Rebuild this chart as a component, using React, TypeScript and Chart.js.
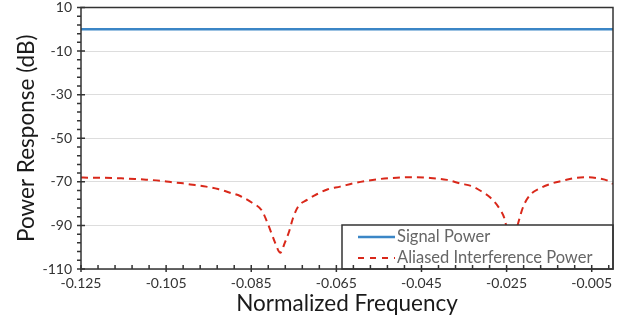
import React, { useEffect, useRef } from "react";
import { Chart, registerables } from "chart.js";

Chart.register(...registerables);

// ---- data ----
const SERIES_NAMES = ["Signal Power", "Aliased Interference Power"];

const SIGNAL_FREQ = [-0.125, 0.0];
const SIGNAL_DB = [0, 0];

const INTERF_FREQ = [
  -0.125, -0.1234, -0.1194, -0.1156, -0.1123, -0.1097, -0.1064, -0.1039,
  -0.101, -0.0982, -0.0956, -0.0928, -0.09, -0.0876, -0.0848, -0.0825,
  -0.0813, -0.0804, -0.0794, -0.0782, -0.0771, -0.0761, -0.0752, -0.074,
  -0.0719, -0.0696, -0.067, -0.0641, -0.0611, -0.0578, -0.0548, -0.0508,
  -0.047, -0.043, -0.039, -0.036, -0.0329, -0.0308, -0.0289, -0.0266,
  -0.0254, -0.0249, -0.0244, -0.0239, -0.0234, -0.0228, -0.0223, -0.0211,
  -0.0195, -0.0172, -0.0143, -0.0118, -0.0089, -0.0061, -0.0031, -0.0012,
  0.0,
];
const INTERF_DB = [
  -68.0, -68.1, -68.1, -68.4, -68.7, -69.0, -69.5, -70.1,
  -70.7, -71.5, -72.2, -73.3, -75.0, -76.5, -79.6, -83.2,
  -88.3, -92.8, -97.9, -102.5, -97.9, -92.8, -86.7, -81.4,
  -78.3, -75.7, -73.4, -72.2, -70.7, -69.5, -68.7, -68.1,
  -67.9, -68.2, -69.1, -70.7, -72.2, -74.5, -77.1, -82.5,
  -87.5, -92.5, -98.0, -103.0, -98.0, -93.0, -89.1, -81.4,
  -76.1, -73.0, -70.7, -69.5, -68.2, -67.9, -68.5, -69.5,
  -71.0,
];

const X_MIN = -0.125;
const X_MAX = 0.0;
const X_TICKS = [-0.125, -0.105, -0.085, -0.065, -0.045, -0.025, -0.005];
const X_MINOR_STEP = 0.004;
const Y_MIN = -110;
const Y_MAX = 10;
const Y_TICKS = [10, -10, -30, -50, -70, -90, -110];
const Y_MINOR_STEP = 4;

const X_TITLE = "Normalized Frequency";
const Y_TITLE = "Power Response (dB)";

const COLORS = ["#3b86c6", "#d9281a"];
const FONT = "Lato";

const framePlugin = {
  id: "frameAndLegend",
  afterDatasetsDraw(chart: any) {
    const { ctx, chartArea } = chart;
    const xs = chart.scales.x;
    const ys = chart.scales.y;
    const { left, right, top, bottom } = chartArea;
    ctx.save();

    // legend box
    const lw = 271;
    const lh = 44;
    const lx = right - lw;
    const ly = bottom - lh;
    ctx.fillStyle = "#ffffff";
    ctx.fillRect(lx, ly, lw, lh);
    ctx.strokeStyle = "#333333";
    ctx.lineWidth = 1.5;
    ctx.strokeRect(lx, ly, lw, lh);

    const rows = [ly + 12, ly + 33];
    ctx.font = `16.5px ${FONT}`;
    ctx.textBaseline = "middle";
    ctx.textAlign = "left";
    SERIES_NAMES.forEach((name, i) => {
      const yy = rows[i];
      ctx.beginPath();
      ctx.strokeStyle = COLORS[i];
      ctx.lineWidth = i === 0 ? 2.5 : 2;
      ctx.setLineDash(i === 0 ? [] : [6, 6]);
      ctx.moveTo(lx + 16, yy);
      ctx.lineTo(lx + 53, yy);
      ctx.stroke();
      ctx.setLineDash([]);
      ctx.fillStyle = "#666666";
      ctx.fillText(name, lx + 55, yy);
    });

    // frame
    ctx.strokeStyle = "#333333";
    ctx.lineWidth = 1.5;
    ctx.strokeRect(left, top, right - left, bottom - top);

    // ticks
    ctx.lineWidth = 1.5;
    ctx.beginPath();
    const nx = Math.round((X_MAX - X_MIN) / X_MINOR_STEP);
    for (let i = 0; i <= nx; i++) {
      const v = X_MIN + i * X_MINOR_STEP;
      if (v > X_MAX + 1e-9) break;
      const px = xs.getPixelForValue(v);
      if (i % 5 === 0) {
        ctx.moveTo(px, bottom - 4);
        ctx.lineTo(px, bottom + 3);
      } else {
        ctx.moveTo(px, bottom - 4);
        ctx.lineTo(px, bottom);
      }
    }
    const ny = Math.round((Y_MAX - Y_MIN) / Y_MINOR_STEP);
    for (let i = 0; i <= ny; i++) {
      const v = Y_MIN + i * Y_MINOR_STEP;
      const py = ys.getPixelForValue(v);
      if (i % 5 === 0) {
        ctx.moveTo(left - 4, py);
        ctx.lineTo(left + 4, py);
      } else {
        ctx.moveTo(left - 4, py);
        ctx.lineTo(left, py);
      }
    }
    ctx.stroke();
    ctx.restore();
  },
};

export default function App() {
  const ref = useRef<HTMLCanvasElement | null>(null);

  useEffect(() => {
    if (!ref.current) return;
    const chart = new Chart(ref.current, {
      type: "line",
      data: {
        datasets: [
          {
            label: SERIES_NAMES[0],
            data: SIGNAL_FREQ.map((f, i) => ({ x: f, y: SIGNAL_DB[i] })),
            borderColor: COLORS[0],
            borderWidth: 2.5,
            pointRadius: 0,
            fill: false,
          },
          {
            label: SERIES_NAMES[1],
            data: INTERF_FREQ.map((f, i) => ({ x: f, y: INTERF_DB[i] })),
            borderColor: COLORS[1],
            borderWidth: 2,
            borderDash: [7, 5],
            pointRadius: 0,
            fill: false,
            cubicInterpolationMode: "monotone",
          },
        ],
      },
      options: {
        responsive: false,
        animation: false,
        layout: { padding: { top: 7.5, right: 14, left: 0, bottom: 0 } },
        plugins: { legend: { display: false }, tooltip: { enabled: false } },
        scales: {
          x: {
            type: "linear",
            min: X_MIN,
            max: X_MAX,
            afterBuildTicks: (s: any) => {
              s.ticks = X_TICKS.map((v) => ({ value: v }));
            },
            afterFit: (s: any) => {
              s.height = 51;
              s.paddingLeft = 0;
              s.paddingRight = 0;
            },
            ticks: {
              callback: (v: any) => Number(v).toFixed(3),
              font: { family: FONT, size: 14 },
              color: "#333333",
              padding: 6,
              maxRotation: 0,
              autoSkip: false,
            },
            grid: { display: false, drawTicks: false },
            border: { display: false },
            title: {
              display: true,
              text: X_TITLE,
              font: { family: FONT, size: 22.5 },
              color: "#1a1a1a",
              padding: { top: 0, bottom: 3 },
            },
          },
          y: {
            type: "linear",
            min: Y_MIN,
            max: Y_MAX,
            afterBuildTicks: (s: any) => {
              s.ticks = Y_TICKS.map((v) => ({ value: v }));
            },
            afterFit: (s: any) => {
              s.width = 81;
              s.paddingTop = 0;
              s.paddingBottom = 0;
            },
            ticks: {
              font: { family: FONT, size: 14 },
              color: "#333333",
              padding: 9,
              autoSkip: false,
            },
            grid: { color: "#dddddd", lineWidth: 1, drawTicks: false },
            border: { display: false },
            title: {
              display: true,
              text: Y_TITLE,
              font: { family: FONT, size: 22.5 },
              color: "#1a1a1a",
              padding: { top: 13, bottom: 0 },
            },
          },
        },
      },
      plugins: [framePlugin],
    } as any);
    return () => chart.destroy();
  }, []);

  return (
    <div style={{ position: "absolute", left: 0, top: 0, width: 627, height: 320 }}>
      <canvas ref={ref} width={627} height={320} style={{ display: "block" }} />
    </div>
  );
}
